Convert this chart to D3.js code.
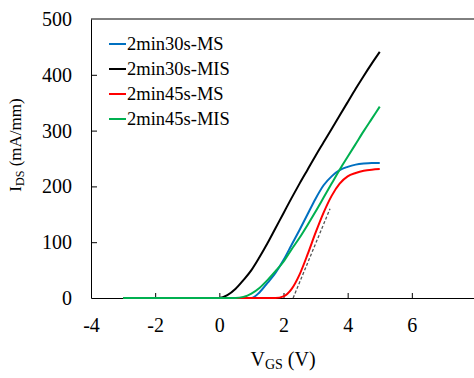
<!DOCTYPE html>
<meta charset="utf-8">
<script src="https://d3js.org/d3.v7.min.js"></script>
<style>
  body { margin: 0; background: #fff; }
  svg text { font-family: "Liberation Serif", "DejaVu Serif", serif; fill: #000; }
</style>
<div id="chart"></div>
<script>
// gate voltage samples (V)
var vgs = [-3, -2, -1, 0, 0.25, 0.5, 0.75, 1, 1.25, 1.5, 1.75, 2, 2.25, 2.5, 2.75, 3, 3.25, 3.5, 3.75, 4, 4.25, 4.5, 4.75, 5];

// drain current (mA/mm) for each sample
var ms30  = [0, 0, 0, 0, 0, 0, 0, 0, 10, 27, 45, 68, 95, 122, 150, 178, 202, 218, 229, 235, 239, 241, 242, 242];
var mis30 = [0, 0, 0, 0, 5, 16, 32, 50, 73, 98, 125, 152, 179, 205, 230, 255, 279, 303, 327, 351, 375, 398, 420, 441];
var ms45  = [0, 0, 0, 0, 0, 0, 0, 0, 0, 0, 0, 3, 16, 42, 78, 117, 153, 183, 205, 218, 224, 228, 230, 231];
var mis45 = [0, 0, 0, 0, 0, 0, 2, 8, 18, 32, 48, 65, 87, 108, 131, 155, 180, 205, 230, 253, 276, 299, 321, 343];

var names  = ["2min30s-MS", "2min30s-MIS", "2min45s-MS", "2min45s-MIS"];
var colors = ["#0070C0", "#000000", "#FF0000", "#00B050"];

// threshold extrapolation line
var fitV = [2.3, 3.45];
var fitI = [0, 160];

var xTicks = [-4, -2, 0, 2, 4, 6];
var yTicks = [0, 100, 200, 300, 400, 500];

var width = 474, height = 378;

var svg = d3.select("#chart").append("svg")
    .attr("width", width)
    .attr("height", height);

var x = d3.scaleLinear().domain([-4, 8]).range([91, 476]);
var y = d3.scaleLinear().domain([0, 500]).range([298, 19]);

// frame top
svg.append("line")
    .attr("x1", x(-4)).attr("x2", x(8))
    .attr("y1", y(500)).attr("y2", y(500))
    .attr("stroke", "#000").attr("stroke-width", 1);

var fmt = function(d){ return String(d); };

var xAxis = svg.append("g")
    .attr("transform", "translate(0," + y(0) + ")")
    .call(d3.axisBottom(x).tickValues(xTicks).tickFormat(fmt).tickSize(-5).tickSizeOuter(0).tickPadding(20));

var yAxis = svg.append("g")
    .attr("transform", "translate(" + x(-4) + ",0)")
    .call(d3.axisLeft(y).tickValues(yTicks).tickFormat(fmt).tickSize(-6).tickSizeOuter(0).tickPadding(19));

[xAxis, yAxis].forEach(function(a) {
  a.attr("font-family", null).attr("font-size", null);
  a.selectAll("text").style("font-size", "20px");
  a.selectAll("path, line").attr("stroke", "#000");
});
yAxis.selectAll(".tick").filter(function(d){ return d === 0 || d === 500; }).select("line").remove();
xAxis.selectAll(".tick").filter(function(d){ return d === -4; }).select("line").remove();

var series = [ms30, mis30, ms45, mis45];
var line = d3.line()
    .x(function(d, i){ return x(vgs[i]); })
    .y(function(d){ return y(d); })
    .curve(d3.curveMonotoneX);

// dashed fit
svg.append("path")
    .attr("d", d3.line().x(function(d, i){ return x(fitV[i]); }).y(function(d){ return y(d); })(fitI))
    .attr("fill", "none")
    .attr("stroke", "#555")
    .attr("stroke-width", 1.3)
    .attr("stroke-dasharray", "3,2");

series.forEach(function(s, k) {
  svg.append("path")
      .attr("d", line(s))
      .attr("fill", "none")
      .attr("stroke", colors[k])
      .attr("stroke-width", 2);
});

// legend
var legend = svg.append("g");
names.forEach(function(n, k) {
  var ly = 44 + k * 25;
  legend.append("line")
      .attr("x1", 109).attr("x2", 126)
      .attr("y1", ly).attr("y2", ly)
      .attr("stroke", colors[k]).attr("stroke-width", 2);
  legend.append("text")
      .attr("x", 127).attr("y", ly)
      .attr("dy", "0.35em")
      .style("font-size", "18.5px")
      .text(n);
});

// axis titles
var xt = svg.append("text")
    .attr("x", 283).attr("y", 366)
    .attr("text-anchor", "middle")
    .style("font-size", "20px");
xt.append("tspan").text("V");
xt.append("tspan").attr("dy", 3).style("font-size", "14px").text("GS");
xt.append("tspan").attr("dy", -3).text(" (V)");

var yt = svg.append("text")
    .attr("transform", "translate(21,145) rotate(-90)")
    .attr("text-anchor", "middle")
    .style("font-size", "17px");
yt.append("tspan").text("I");
yt.append("tspan").attr("dy", 3).style("font-size", "12px").text("DS");
yt.append("tspan").attr("dy", -3).text(" (mA/mm)");
</script>
